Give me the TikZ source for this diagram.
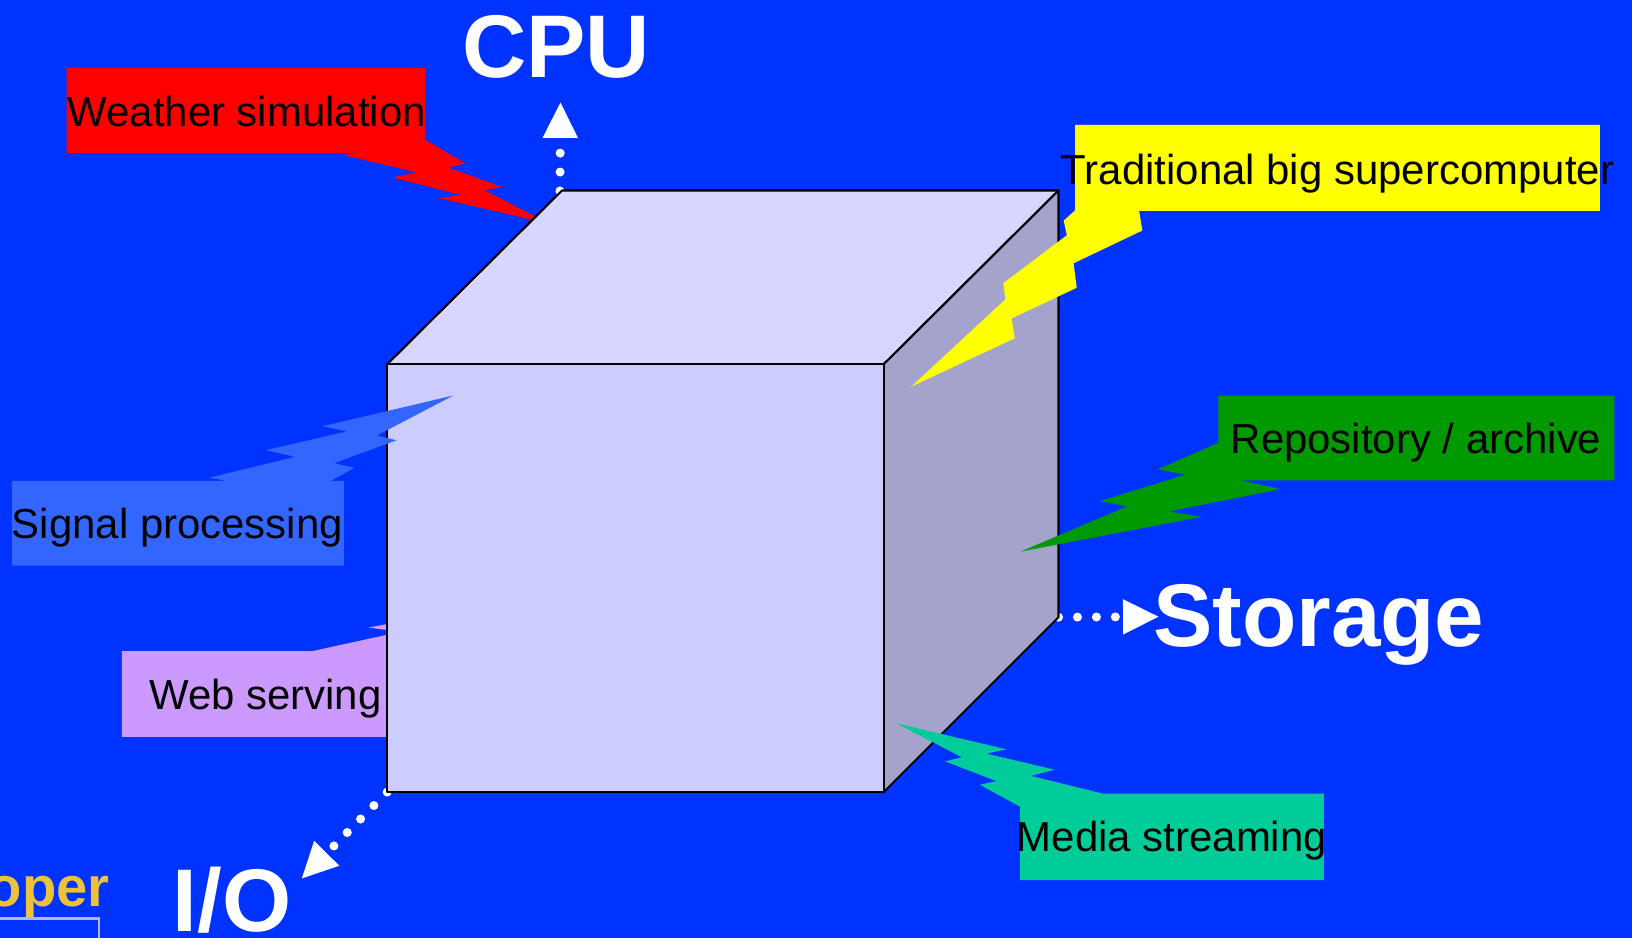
\documentclass[tikz,border=0pt]{standalone}
\usepackage{fontspec}
\setmainfont{Liberation Sans}
\usetikzlibrary{arrows.meta}
\definecolor{slideblue}{HTML}{0033FF}
\definecolor{cubefront}{HTML}{CCCCFF}
\definecolor{cubetop}{HTML}{D6D6FF}
\definecolor{cubeside}{HTML}{A3A3CC}
\definecolor{weatherred}{HTML}{FF0000}
\definecolor{bigyellow}{HTML}{FFFF00}
\definecolor{signalblue}{HTML}{3366FF}
\definecolor{webpurple}{HTML}{CC99FF}
\definecolor{archivegreen}{HTML}{009900}
\definecolor{mediagreen}{HTML}{00CC99}
\definecolor{logogold}{HTML}{EBC23A}
\definecolor{logoline}{HTML}{B4B6E6}
\tikzset{
	calltext/.style={anchor=base, inner sep=0pt, text=black, font=\fontsize{40.3}{48}\selectfont},
	axistext/.style={anchor=base, inner sep=0pt, text=white, font=\fontsize{85.5}{100}\selectfont\bfseries},
	cubeface/.style={draw=black, line width=2pt, line join=round},
	dotarrow/.style={white, line width=8.7pt, line cap=round, dash pattern=on 0pt off 18.2pt, -{Triangle[length=34pt, width=34pt, line width=0pt]}}
}

\begin{document}
\begin{tikzpicture}[x=1pt, y=-1pt]
		%%%%% START %%%%%
		\useasboundingbox (0, 0) rectangle (1568, 901.2);
		\clip (0, 0) rectangle (1568, 901.2);
		\fill[slideblue] (0, 0) rectangle (1568, 901.2);
		
		% logo in the corner
		\node[anchor=base east, inner sep=0pt, text=logogold, font=\fontsize{54}{60}\selectfont\bfseries] (logo) at (105.5, 871) {oper};
		\draw[logoline, line width=2pt] (-5, 882.5) -- (95.5, 882.5) -- (95.5, 910);
		
		% axes, the cube hides their first dot
		\coordinate (cputail) at (538, 183.5);
		\coordinate (cpuhead) at (538.5, 98.5);
		\coordinate (storagetail) at (1017, 593);
		\coordinate (storagehead) at (1113, 592.5);
		\coordinate (iotail) at (372, 761);
		\coordinate (iohead) at (290, 844);
		\draw[dotarrow] (cputail) -- (cpuhead);
		\draw[dotarrow] (storagetail) -- (storagehead);
		\draw[dotarrow] (iotail) -- (iohead);
		
		\node[axistext] (cpu) at (534.5, 74) {CPU};
		\node[axistext] (storage) at (1267, 621) {Storage};
		\node[axistext] (io) at (223, 894.5) {I/O};
		
		% callouts behind the cube
		\fill[weatherred] (64, 65) -- (409, 65) -- (409, 134.5) -- (447, 157) -- (431, 161) -- (482, 179.5) -- (466, 183) -- (528, 215) -- (422, 190.5) -- (442, 187) -- (377, 170.5) -- (400, 165.5) -- (330, 149) -- (340, 147) -- (64, 147) -- cycle;
		\fill[webpurple] (117, 625.5) -- (300.5, 625.5) -- (385, 607) -- (354, 603) -- (385, 597) -- (385, 708) -- (117, 708) -- cycle;
		
		% cube
		\draw[cubeface, fill=cubetop] (372, 350) -- (540, 183) -- (1017, 183) -- (849, 350) -- cycle;
		\draw[cubeface, fill=cubeside] (849, 350) -- (1017, 183) -- (1017, 593) -- (849, 761) -- cycle;
		\draw[cubeface, fill=cubefront] (372, 350) rectangle (849, 761);
		
		% callouts over the cube
		\fill[signalblue] (11.5, 462) -- (218, 462) -- (201, 459) -- (283.5, 439) -- (255.5, 432.5) -- (333.5, 414.5) -- (310, 409.5) -- (435.5, 380) -- (362, 418.5) -- (381, 423) -- (321, 445) -- (340.5, 449.5) -- (317.5, 462) -- (330.5, 462) -- (330.5, 543.5) -- (11.5, 543.5) -- cycle;
		\fill[bigyellow] (1033, 120) -- (1537, 120) -- (1537, 202.5) -- (1094.5, 202.5) -- (1097.5, 221.5) -- (1031.5, 253) -- (1034.5, 276.5) -- (972, 306) -- (975, 325) -- (875.5, 371.5) -- (966, 287.5) -- (964, 272) -- (1025, 226) -- (1022, 212) -- (1033, 202) -- cycle;
		\fill[archivegreen] (1170.5, 380) -- (1551, 380) -- (1551, 461.5) -- (1192, 461.5) -- (1230, 470) -- (1122.5, 491.5) -- (1154.5, 496.5) -- (980.5, 530) -- (1083, 486.5) -- (1057, 481.5) -- (1139, 456) -- (1112.5, 451) -- (1170.5, 425.5) -- cycle;
		\fill[mediagreen] (861.5, 695) -- (967, 720) -- (947.5, 724) -- (1013, 739.5) -- (990.5, 745.5) -- (1059.5, 762.5) -- (1272, 762.5) -- (1272, 845.5) -- (980, 845.5) -- (980, 775) -- (941.5, 754) -- (957.5, 750.5) -- (908, 731.5) -- (924, 727.5) -- cycle;
		
		% labels
		\node[calltext] (weather) at (237, 122) {Weather simulation};
		\node[calltext] (signal) at (170.5, 517) {Signal processing};
		\node[calltext] (web) at (255, 681.5) {Web serving};
		\node[calltext] (traditional) at (1285, 177) {Traditional big supercomputer};
		\node[calltext] (repository) at (1360.5, 435.5) {Repository / archive};
		\node[calltext] (media) at (1126, 818) {Media streaming};
		%%%%% END %%%%%
	\end{tikzpicture}
\end{document}
